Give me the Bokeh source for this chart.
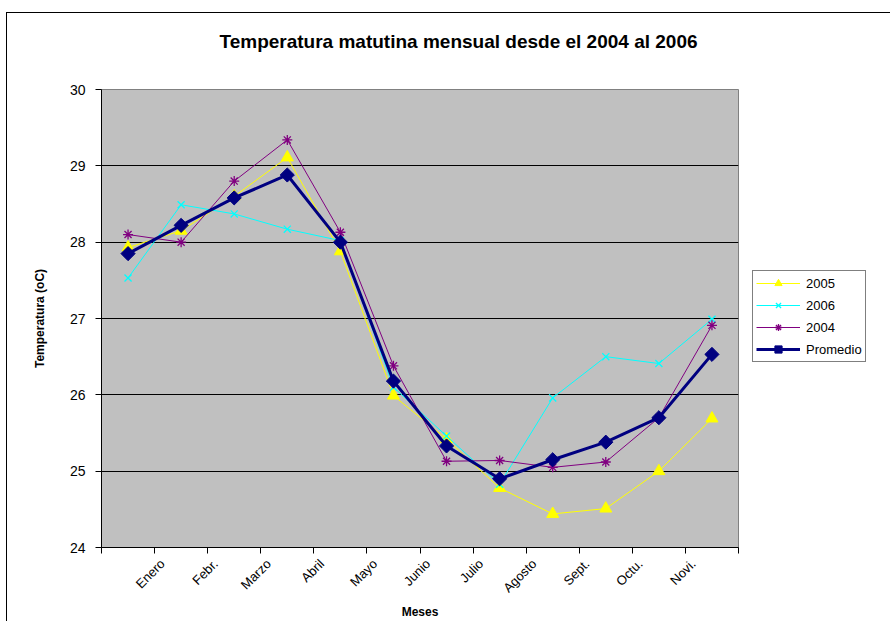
from bokeh.plotting import figure
from bokeh.models import Range1d, FixedTicker, Legend, LegendItem, Title
from bokeh.embed import file_html
from bokeh.resources import INLINE

# ---- data ----
month_labels = ["Enero", "Febr.", "Marzo", "Abril", "Mayo", "Junio",
                "Julio", "Agosto", "Sept.", "Octu.", "Novi."]
point_index = [1, 2, 3, 4, 5, 6, 7, 8, 9, 10, 11, 12]
y_ticks = [24, 25, 26, 27, 28, 29, 30]

t2005 = [27.93, 28.15, 28.60, 29.11, 27.88, 25.99, 25.42, 24.78, 24.44, 24.51, 25.00, 25.69]
t2006 = [27.53, 28.49, 28.37, 28.17, 28.02, 26.10, 25.46, 24.83, 25.96, 26.50, 26.41, 26.99]
t2004 = [28.10, 28.00, 28.80, 29.34, 28.13, 26.38, 25.13, 25.14, 25.05, 25.12, 25.70, 26.91]
promedio = [27.85, 28.22, 28.58, 28.88, 28.00, 26.18, 25.33, 24.90, 25.15, 25.38, 25.70, 26.53]

FONT = "Liberation Sans"

p = figure(frame_width=637, frame_height=458, output_backend="svg", toolbar_location=None,
           x_range=Range1d(0.5, 12.5), y_range=Range1d(24, 30),
           min_border_left=94, min_border_right=136,
           min_border_top=76, min_border_bottom=69,
           background_fill_color="#C0C0C0", border_fill_color="white",
           outline_line_color="#808080", outline_line_width=1)
# outer chart border (top and left edges visible in the reference)
p.styles = {"border-left": "1px solid black", "border-top": "1px solid black",
            "margin-left": "6px", "margin-top": "12px"}

# title: a small blank spacer next to the frame, the title above it
p.title_location = None
spacer = Title(text=" ", text_font=FONT, text_font_size="10px", standoff=22)
p.add_layout(spacer, "above")
main_title = Title(text="Temperatura matutina mensual desde el 2004 al 2006",
                   text_font=FONT, text_font_size="19px", text_font_style="bold",
                   text_color="black", align="left", offset=118, standoff=5)
p.add_layout(main_title, "above")

# grid
p.xgrid.visible = False
p.ygrid.ticker = FixedTicker(ticks=y_ticks[1:-1])
p.ygrid.grid_line_color = "black"
p.ygrid.grid_line_width = 1

# y axis
p.yaxis.ticker = FixedTicker(ticks=y_ticks)
p.yaxis.major_tick_out = 6
p.yaxis.major_tick_in = 0
p.yaxis.major_tick_line_color = "black"
p.yaxis.minor_tick_line_color = None
p.yaxis.axis_line_color = "black"
p.yaxis.major_label_text_font = FONT
p.yaxis.major_label_text_font_size = "14px"
p.yaxis.major_label_text_color = "black"
p.yaxis.major_label_standoff = 10
p.yaxis.axis_label = "Temperatura (oC)"
p.yaxis.axis_label_text_font = FONT
p.yaxis.axis_label_text_font_size = "12px"
p.yaxis.axis_label_text_font_style = "bold"
p.yaxis.axis_label_text_color = "black"
p.yaxis.axis_label_standoff = 20

# x axis: tick marks on the category boundaries, labels just right of them
bounds = [i + 0.5 for i in range(13)]
label_pos = [b + 0.15 for b in bounds[1:12]]
p.xaxis.ticker = FixedTicker(ticks=label_pos, minor_ticks=bounds)
p.xaxis.major_label_overrides = {pos: lab for pos, lab in zip(label_pos, month_labels)}
p.xaxis.major_label_orientation = 0.785398
p.xaxis.major_tick_line_color = None
p.xaxis.major_tick_out = 0
p.xaxis.major_tick_in = 0
p.xaxis.minor_tick_line_color = "black"
p.xaxis.minor_tick_out = 6
p.xaxis.minor_tick_in = 0
p.xaxis.axis_line_color = "black"
p.xaxis.major_label_text_font = FONT
p.xaxis.major_label_text_font_size = "13px"
p.xaxis.major_label_text_color = "black"
p.xaxis.major_label_standoff = 8
p.xaxis.axis_label = "Meses"
p.xaxis.axis_label_text_font = FONT
p.xaxis.axis_label_text_font_size = "12px"
p.xaxis.axis_label_text_font_style = "bold"
p.xaxis.axis_label_text_color = "black"
p.xaxis.axis_label_standoff = 1

series = [
    ("2005", t2005, "#FFFF00", "triangle", 12, 1, 0.0),
    ("2006", t2006, "#00FFFF", "x", 10, 1, 0.0),
    ("2004", t2004, "#800080", "asterisk", 10, 1, 0.0),
    ("Promedio", promedio, "#000080", "square", 10, 3, 0.785398),
]
items = []
for name, vals, col, mk, sz, lw, ang in series:
    r1 = p.line(point_index, vals, line_color=col, line_width=lw)
    r2 = p.scatter(point_index, vals, marker=mk, size=sz, angle=ang, line_color=col,
                   fill_color=col, line_width=1.3 if mk in ("x", "asterisk") else 1)
    items.append(LegendItem(label=name, renderers=[r1, r2]))

legend = Legend(items=items, location=(14, 185), orientation="vertical",
                border_line_color="black", border_line_width=1,
                background_fill_color="white", background_fill_alpha=1,
                label_text_font=FONT, label_text_font_size="13px",
                label_text_color="black",
                glyph_width=44, glyph_height=18, label_height=18,
                spacing=4, padding=3, margin=0, label_standoff=6)
p.add_layout(legend, "right")

open("out.html", "w").write(file_html(p, INLINE))
